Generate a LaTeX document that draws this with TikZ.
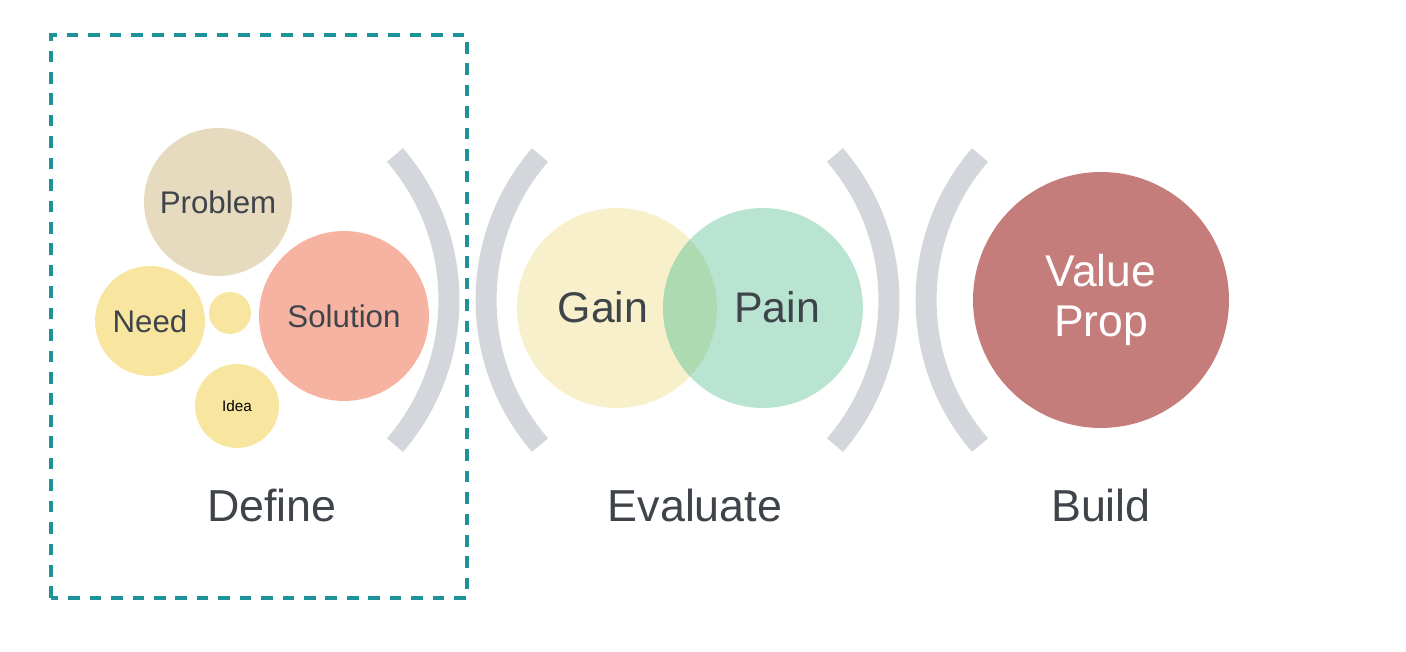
\documentclass[tikz,border=0pt]{standalone}
\usepackage{fontspec}
\setmainfont{Liberation Sans}
\definecolor{txtgray}{HTML}{3E444A}
\definecolor{framedash}{HTML}{1E9299}
\definecolor{bracketgray}{HTML}{D3D6DA}
\definecolor{problemtan}{HTML}{E6DABF}
\definecolor{needyellow}{HTML}{F8E6A0}
\definecolor{solutionred}{HTML}{F7B3A2}
\definecolor{gainyellow}{HTML}{F8EFCB}
\definecolor{paingreen}{HTML}{B9E4D1}
\definecolor{overlapgreen}{HTML}{AEDAB2}
\definecolor{valuered}{HTML}{C57D7B}

\begin{document}
\begin{tikzpicture}[x=0.02cm,y=0.02cm]
    \tikzstyle{bubble}=[circle,inner sep=0pt,text=txtgray,font=\fontsize{17.8}{20}\selectfont]
    \tikzstyle{bigtext}=[text=txtgray,font=\fontsize{24.4}{28}\selectfont]
    \tikzstyle{stage}=[text=txtgray,font=\fontsize{25.5}{30}\selectfont]
    \tikzstyle{bracket}=[draw=bracketgray,line width=0.42cm]
    \useasboundingbox (0,0) rectangle (1406,652);

    % define
    \draw[framedash,line width=2.2pt,dash pattern=on 6.6pt off 5.6pt] (51,54) rectangle (467,617);
    \node[bubble,fill=problemtan,minimum size=2.96cm] (problem) at (218,450) {Problem};
    \node[bubble,fill=needyellow,minimum size=2.2cm] (need) at (150,331) {Need};
    \node[bubble,fill=needyellow,minimum size=0.84cm] (dot) at (230,339) {};
    \node[bubble,fill=needyellow,minimum size=1.68cm,text=black,font=\fontsize{8.7}{10}\selectfont] (idea) at (237,246) {Idea};
    \node[bubble,fill=solutionred,minimum size=3.4cm] (solution) at (344,336) {Solution};

    % brackets
    \foreach \xs/\a/\b in {395/40.8/-40.8, 540/139.2/220.8, 835/40.8/-40.8, 980/139.2/220.8}
        \draw[bracket] (\xs,497) arc[start angle=\a, end angle=\b, radius=222];

    % evaluate
    \node[circle,fill=gainyellow,minimum size=4cm] (gain) at (617,344) {};
    \node[circle,fill=paingreen,minimum size=4cm] (pain) at (763,344) {};
    \begin{scope}
        \clip (gain.center) circle[radius=100];
        \fill[overlapgreen] (pain.center) circle[radius=100];
    \end{scope}
    \node[bigtext] (gain-label) at (603,345) {Gain};
    \node[bigtext] (pain-label) at (777,345) {Pain};

    % build
    \node[circle,fill=valuered,minimum size=5.12cm,align=center,text=white,
        font=\fontsize{25.3}{28.5}\selectfont] (value) at (1101,352) {Value\\Prop};

    \node[stage] (define) at (272,147) {Define};
    \node[stage] (evaluate) at (695,147) {Evaluate};
    \node[stage] (build) at (1101,147) {Build};
\end{tikzpicture}
\end{document}
